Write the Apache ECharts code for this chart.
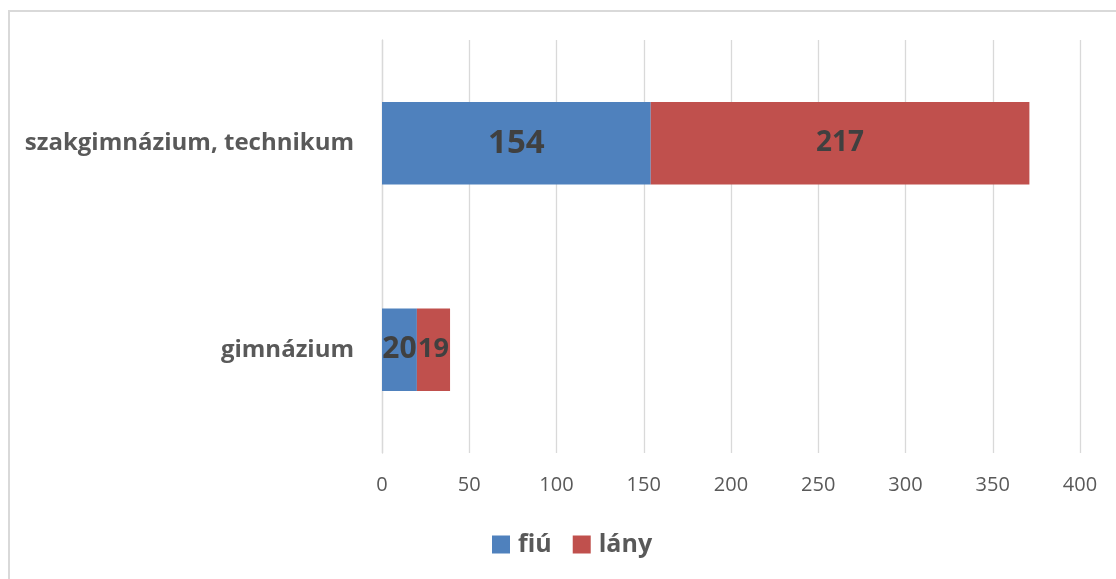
<!DOCTYPE html>
<html>
<head>
<meta charset="utf-8">
<script src="https://cdn.jsdelivr.net/npm/echarts@6/dist/echarts.min.js"></script>
<style>
html,body{margin:0;padding:0;background:#fff;}
#chart{width:1116px;height:579px;}
</style>
</head>
<body>
<div id="chart"></div>
<script>
const categories = ['gimnázium', 'szakgimnázium, technikum'];
const seriesNames = ['fiú', 'lány'];
const fiuValues = [20, 154];
const lanyValues = [19, 217];
const xTicks = [0, 50, 100, 150, 200, 250, 300, 350, 400];

const FONT = '"Open Sans", "DejaVu Sans", sans-serif';
const labelSizes = { 'fiú': [30, 33], 'lány': [27, 28] };

function makeSeries(name, values, color) {
  return {
    name: name,
    type: 'bar',
    stack: 'total',
    barWidth: '40%',
    itemStyle: { color: color },
    label: {
      show: true,
      position: 'inside',
      color: '#404040',
      fontFamily: FONT,
      fontWeight: 'bold'
    },
    data: values.map((v, i) => ({ value: v, label: { fontSize: labelSizes[name][i] } }))
  };
}

const chart = echarts.init(document.getElementById('chart'));
chart.setOption({
  animation: false,
  backgroundColor: '#fff',
  graphic: [{
    type: 'rect',
    shape: { x: 9, y: 11, width: 1200, height: 700 },
    style: { fill: 'none', stroke: '#d9d9d9', lineWidth: 2 },
    silent: true
  }],
  grid: { left: 382, right: 36, top: 40, bottom: 126, outerBoundsMode: 'none', containLabel: false },
  xAxis: {
    type: 'value',
    min: xTicks[0],
    max: xTicks[xTicks.length - 1],
    interval: xTicks[1] - xTicks[0],
    axisLine: { show: false },
    axisTick: { show: false },
    splitLine: { show: true, lineStyle: { color: '#d9d9d9', width: 1.3 } },
    axisLabel: { color: '#595959', fontSize: 20, fontFamily: FONT, margin: 22 }
  },
  yAxis: {
    type: 'category',
    data: categories,
    axisLine: { show: true, lineStyle: { color: '#d9d9d9', width: 1.3 } },
    axisTick: { show: false },
    axisLabel: { color: '#595959', fontSize: 24, fontWeight: 'bold', fontFamily: FONT, margin: 28 }
  },
  legend: {
    data: seriesNames,
    left: 492,
    top: 532,
    padding: 0,
    icon: 'rect',
    itemWidth: 18,
    itemHeight: 18,
    itemGap: 21,
    textStyle: { color: '#595959', fontSize: 25, fontWeight: 'bold', fontFamily: FONT, padding: [0, 0, 0, 3] }
  },
  series: [
    makeSeries(seriesNames[0], fiuValues, '#4f81bd'),
    makeSeries(seriesNames[1], lanyValues, '#c0504d')
  ]
});
</script>
</body>
</html>
